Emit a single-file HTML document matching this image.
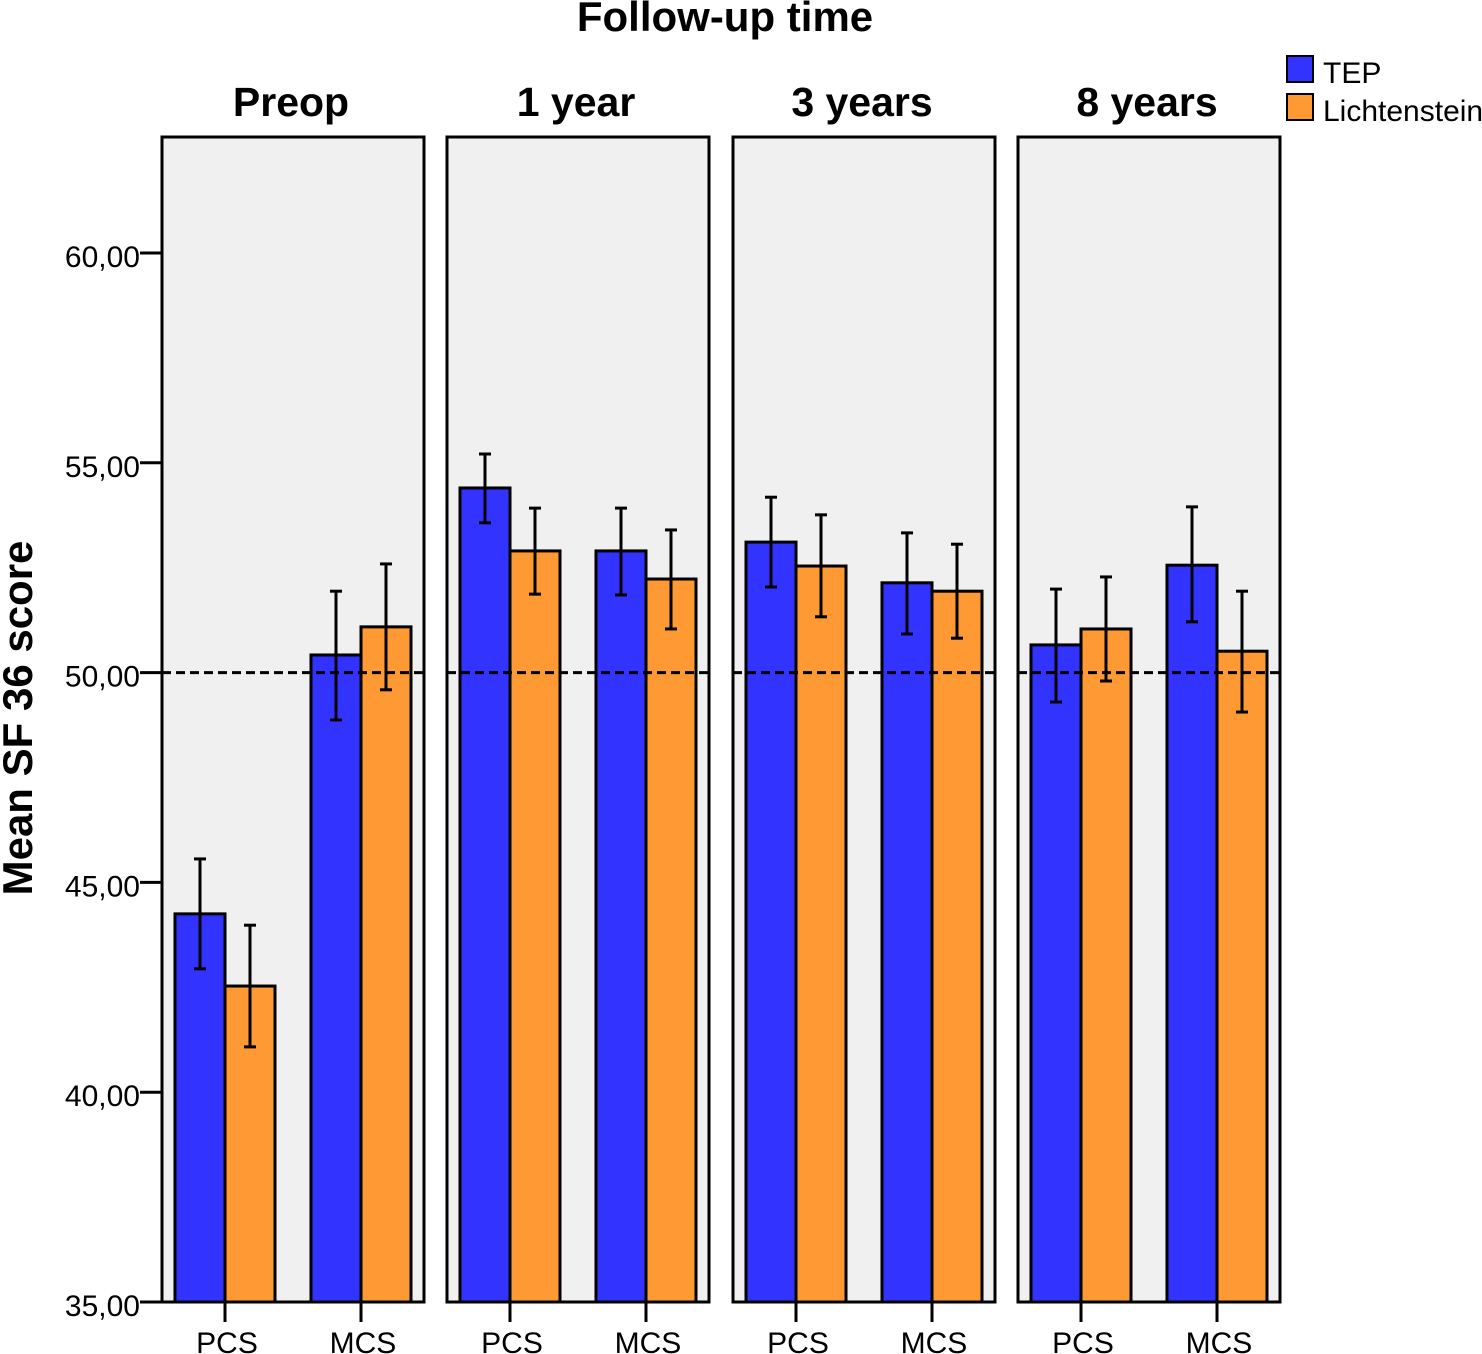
<!DOCTYPE html>
<html><head><meta charset="utf-8"><style>
html,body{margin:0;padding:0;background:#fff;}
svg{display:block;font-family:"Liberation Sans",Arial,sans-serif;}
</style></head><body>
<svg id="chart" width="1482" height="1354" viewBox="0 0 1482 1354">
<text x="725" y="31" font-size="42" font-weight="bold" text-anchor="middle">Follow-up time</text>
<text transform="translate(32,718) rotate(-90)" font-size="42" font-weight="bold" text-anchor="middle">Mean SF 36 score</text>
<g>
<rect x="1287" y="56" width="26" height="26" fill="#3333ff" stroke="#000" stroke-width="2"/>
<text x="1323" y="83" font-size="30">TEP</text>
<rect x="1287" y="94" width="26" height="26" fill="#ff9933" stroke="#000" stroke-width="2"/>
<text x="1323" y="121" font-size="30">Lichtenstein</text>
</g>
<g id="plot"></g>
</svg>
<script>
const panels = ["Preop","1 year","3 years","8 years"];
const categories = ["PCS","MCS"];
const series = ["TEP","Lichtenstein"];
// [panel][category]
const tepMean = [[44.25,50.42],[54.40,52.90],[53.11,52.14],[50.66,52.56]];
const tepHi   = [[45.56,51.94],[55.21,53.92],[54.18,53.33],[51.99,53.95]];
const tepLo   = [[42.94,48.87],[53.57,51.85],[52.04,50.92],[49.30,51.21]];
const lichMean= [[42.53,51.09],[52.90,52.23],[52.54,51.94],[51.04,50.51]];
const lichHi  = [[43.98,52.59],[53.92,53.40],[53.76,53.06],[52.28,51.94]];
const lichLo  = [[41.08,49.59],[51.87,51.04],[51.33,50.82],[49.80,49.06]];
const yTicks = [35,40,45,50,55,60];
const yTickLabels = ["35,00","40,00","45,00","50,00","55,00","60,00"];
const refLine = 50;

const NS="http://www.w3.org/2000/svg";
const plotG=document.getElementById('plot');
const yBase=1302, yTop60=253;
const yScale=v=>yBase-(v-35)*(yBase-yTop60)/25;
const panelLeft=[162,447,733,1018], panelW=262, panelTop=137;
function mk(tag,attrs,parent){const e=document.createElementNS(NS,tag);for(const k in attrs)e.setAttribute(k,attrs[k]);(parent||plotG).appendChild(e);return e;}
yTicks.forEach((t,i)=>{
  const l=mk('line',{x1:140,x2:162,y1:yScale(t),y2:yScale(t),stroke:'#000','stroke-width':3});
  
  
  const tx=mk('text',{x:140,y:yScale(t)+14,'font-size':30,'text-anchor':'end'});
  tx.textContent=yTickLabels[i];
  
  
});
panels.forEach((p,pi)=>{
  const L=panelLeft[pi];
  const bg=mk('rect',{x:L,y:panelTop,width:panelW,height:yBase-panelTop,fill:'#f0f0f0',stroke:'#000','stroke-width':3});
  
  
  const tt=mk('text',{x:L+panelW/2-2,y:116,'font-size':41,'font-weight':'bold','text-anchor':'middle'});
  tt.textContent=p;
  
  
  categories.forEach((c,ci)=>{
    const cx=L+63+ci*136;
    const data=[[tepMean,tepHi,tepLo,'#3333ff'],[lichMean,lichHi,lichLo,'#ff9933']];
    data.forEach((d,si)=>{
      const bx=cx-50+si*50, v=d[0][pi][ci];
      const b=mk('rect',{x:bx,y:yScale(v),width:50,height:yBase-yScale(v),fill:d[3],stroke:'#000','stroke-width':3});
      
      
      const ex=bx+25, hi=yScale(d[1][pi][ci]), lo=yScale(d[2][pi][ci]);
      const eg=mk('g',{stroke:'#000','stroke-width':3});
      
      
      mk('line',{x1:ex,x2:ex,y1:hi,y2:lo},eg);
      mk('line',{x1:ex-6,x2:ex+6,y1:hi,y2:hi},eg);
      mk('line',{x1:ex-6,x2:ex+6,y1:lo,y2:lo},eg);
    });
    const tk=mk('line',{x1:cx,x2:cx,y1:yBase,y2:yBase+20,stroke:'#000','stroke-width':3});
    
    
    const lb=mk('text',{x:cx+2,y:1353,'font-size':30,'text-anchor':'middle'});
    lb.textContent=c;
    
    
  });
  const rl=mk('line',{x1:L,x2:L+panelW,y1:yScale(refLine),y2:yScale(refLine),stroke:'#000','stroke-width':3,'stroke-dasharray':'9,5'});
  
  
});
</script>
</body></html>
